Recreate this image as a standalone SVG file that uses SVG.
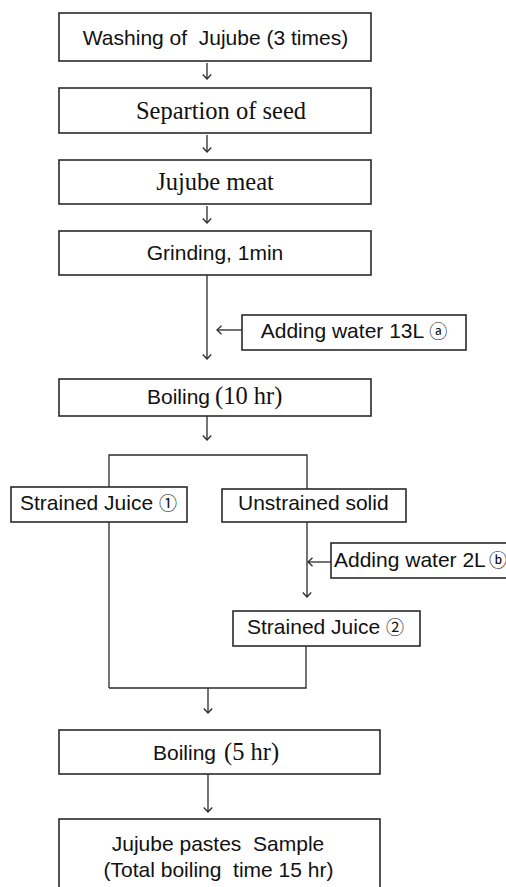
<svg xmlns="http://www.w3.org/2000/svg" width="506" height="887" viewBox="0 0 506 887">
<style>
.box{fill:#fff;stroke:#2a2a2a;stroke-width:1.6}
.ln{fill:none;stroke:#2a2a2a;stroke-width:1.3}
.sans{font-family:"Liberation Sans",Arial,sans-serif;font-size:21px;fill:#111}
.serif{font-family:"Liberation Serif","Times New Roman",serif;font-size:24.5px;fill:#111}
.c{text-anchor:middle}
.circ{font-family:"Noto Sans CJK KR","DejaVu Sans",sans-serif;font-size:18px}
</style>
<defs>
<marker id="ah" markerUnits="userSpaceOnUse" markerWidth="10" markerHeight="10" viewBox="0 0 10 10" refX="9" refY="5" orient="auto">
<path d="M4.5,0.8 L9,5 L4.5,9.2" fill="none" stroke="#2a2a2a" stroke-width="1.3"/>
</marker>
</defs>
<rect width="506" height="887" fill="#fff"/>
<g id="connectors">
<line class="ln" x1="207" y1="63" x2="207" y2="79" marker-end="url(#ah)"/>
<line class="ln" x1="207" y1="135" x2="207" y2="152" marker-end="url(#ah)"/>
<line class="ln" x1="207" y1="206" x2="207" y2="223" marker-end="url(#ah)"/>
<line class="ln" x1="207" y1="275" x2="207" y2="359" marker-end="url(#ah)"/>
<line class="ln" x1="242" y1="330" x2="217" y2="330" marker-end="url(#ah)"/>
<line class="ln" x1="207" y1="416" x2="207" y2="440" marker-end="url(#ah)"/>
<polyline class="ln" points="109,487 109,455 307,455 307,489"/>
<line class="ln" x1="109" y1="522" x2="109" y2="688"/>
<line class="ln" x1="307" y1="522" x2="307" y2="597" marker-end="url(#ah)"/>
<line class="ln" x1="331" y1="562" x2="308" y2="562" marker-end="url(#ah)"/>
<polyline class="ln" points="109,688 306,688 306,646"/>
<line class="ln" x1="208" y1="688" x2="208" y2="713" marker-end="url(#ah)"/>
<line class="ln" x1="208" y1="774" x2="208" y2="812" marker-end="url(#ah)"/>
</g>
<g id="n1">
<rect class="box" x="59" y="13" width="312" height="48"/>
<text class="sans c" x="215.5" y="45" xml:space="preserve">Washing of  Jujube (3 times)</text>
</g>
<g id="n2">
<rect class="box" x="59" y="88" width="312" height="45"/>
<text class="serif c" x="221" y="119">Separtion of seed</text>
</g>
<g id="n3">
<rect class="box" x="59" y="160" width="312" height="44"/>
<text class="serif c" x="215" y="190">Jujube meat</text>
</g>
<g id="n4">
<rect class="box" x="59" y="231" width="312" height="44"/>
<text class="sans c" x="215" y="260">Grinding, 1min</text>
</g>
<g id="n5">
<rect class="box" x="242" y="315" width="224" height="35"/>
<text class="sans c" x="354" y="338">Adding water 13L <tspan class="circ">ⓐ</tspan></text>
</g>
<g id="n6">
<rect class="box" x="59" y="379" width="312" height="37"/>
<text class="sans" x="147" y="404">Boiling</text>
<text class="serif" x="215" y="404">(10 hr)</text>
</g>
<g id="n7">
<rect class="box" x="11" y="487" width="176" height="35"/>
<text class="sans c" x="98.5" y="510">Strained Juice <tspan class="circ">①</tspan></text>
</g>
<g id="n8">
<rect class="box" x="222" y="489" width="184" height="33"/>
<text class="sans" x="238" y="510">Unstrained solid</text>
</g>
<g id="n9">
<rect class="box" x="331" y="543" width="185" height="35"/>
<text class="sans" x="334" y="567" font-size="19">Adding water 2L</text>
<text class="circ" x="489" y="567" font-size="14">ⓑ</text>
</g>
<g id="n10">
<rect class="box" x="233" y="611" width="187" height="35"/>
<text class="sans c" x="325.5" y="634">Strained Juice <tspan class="circ">②</tspan></text>
</g>
<g id="n11">
<rect class="box" x="59" y="730" width="321" height="44"/>
<text class="sans" x="153" y="760">Boiling</text>
<text class="serif" x="224" y="760">(5 hr)</text>
</g>
<g id="n12">
<rect class="box" x="59" y="819" width="321" height="90"/>
<text class="sans c" x="218" y="851" xml:space="preserve">Jujube pastes  Sample</text>
<text class="sans c" x="218.5" y="877" xml:space="preserve">(Total boiling  time 15 hr)</text>
</g>
</svg>
